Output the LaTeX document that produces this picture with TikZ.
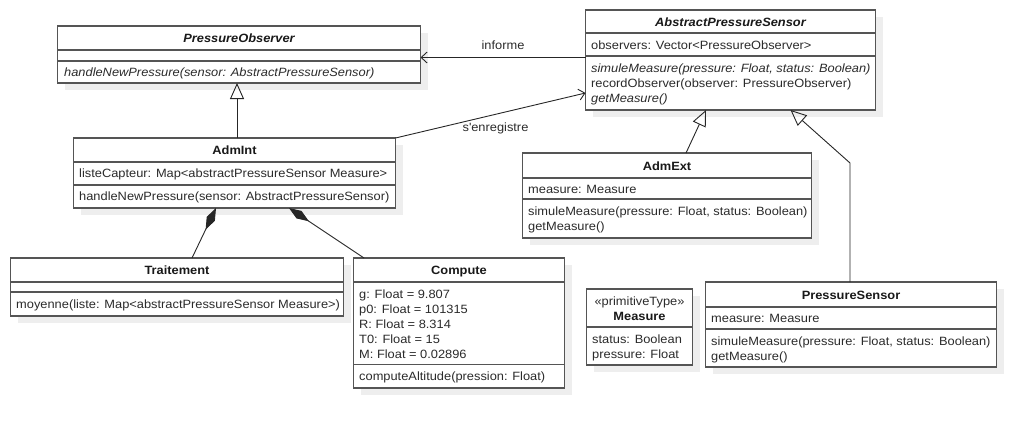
\documentclass[tikz,border=0pt]{standalone}
\usepackage{fontspec}
\setmainfont[FakeStretch=1.07]{Liberation Sans}
\usetikzlibrary{arrows.meta,calc}
\definecolor{linec}{HTML}{555555}
\definecolor{textc}{HTML}{2B2B2B}
\definecolor{shadowc}{HTML}{EEEEEE}
\tikzset{
  classbox/.style={draw=linec, fill=white, line width=1.2pt, inner sep=0pt, outer sep=0pt, anchor=north west},
  shadowbox/.style={fill=shadowc},
  sepline/.style={draw=linec, line width=1.1pt},
  txt/.style={inner sep=0pt, anchor=base west, text=textc, font=\fontsize{12}{14}\selectfont},
  ttl/.style={inner sep=0pt, anchor=base, text=black!90, font=\fontsize{12}{14}\selectfont\bfseries},
  lbl/.style={inner sep=0pt, anchor=base, text=textc, font=\fontsize{12}{14}\selectfont},
  conn/.style={draw=black!85, line width=0.9pt},
  gen/.style={conn, -{Triangle[open, length=16pt, width=14pt, line width=0.9pt]}},
  assoc/.style={conn, -{Straight Barb[length=6pt, width=11pt, line width=0.9pt]}},
  comp/.style={conn, -{Diamond[length=24pt, width=9pt]}},
}
\newcommand\umlclass[5]{%
  \fill[shadowbox] (#2+7,#3+7) rectangle (#4+7,#5+7);
  \node[classbox, minimum width={(#4-#2)*1pt}, minimum height={(#5-#3)*1pt}] (#1) at (#2,#3) {};}
\begin{document}
\begin{tikzpicture}[x=1pt, y=-1pt]
\useasboundingbox (0,0) rectangle (1035,428);

% ---------- PressureObserver
\umlclass{po}{57.5}{26}{420.5}{83}
\draw[sepline] (57.5,50) -- (420.5,50);
\draw[sepline] (57.5,61) -- (420.5,61);
\node[ttl, font=\fontsize{12}{14}\selectfont\bfseries\itshape] (poT) at (239,42.3) {PressureObserver};
\node[txt, font=\fontsize{12}{14}\selectfont\itshape] (poM) at (64,76.3) {handleNewPressure(sensor: AbstractPressureSensor)};

% ---------- AbstractPressureSensor
\umlclass{aps}{585.5}{10}{875.5}{110}
\draw[sepline] (585.5,33) -- (875.5,33);
\draw[sepline] (585.5,56) -- (875.5,56);
\node[ttl, font=\fontsize{12}{14}\selectfont\bfseries\itshape] (apsT) at (730.5,26.3) {AbstractPressureSensor};
\node[txt] (apsA) at (591,49.3) {observers: Vector<PressureObserver>};
\node[txt, font=\fontsize{12}{14}\selectfont\itshape] (apsM1) at (591,72.3) {simuleMeasure(pressure: Float, status: Boolean)};
\node[txt] (apsM2) at (591,87.3) {recordObserver(observer: PressureObserver)};
\node[txt, font=\fontsize{12}{14}\selectfont\itshape] (apsM3) at (591,102.3) {getMeasure()};

% ---------- AdmInt
\umlclass{admint}{73.5}{138}{395.5}{208}
\draw[sepline] (73.5,162) -- (395.5,162);
\draw[sepline] (73.5,185) -- (395.5,185);
\node[ttl] (admintT) at (234.5,154.3) {AdmInt};
\node[txt] (admintA) at (79,177.3) {listeCapteur: Map<abstractPressureSensor Measure>};
\node[txt] (admintM) at (79,200.3) {handleNewPressure(sensor: AbstractPressureSensor)};

% ---------- AdmExt
\umlclass{admext}{522.5}{153}{811.5}{238}
\draw[sepline] (522.5,178) -- (811.5,178);
\draw[sepline] (522.5,199) -- (811.5,199);
\node[ttl] (admextT) at (667,170.3) {AdmExt};
\node[txt] (admextA) at (528,193.3) {measure: Measure};
\node[txt] (admextM1) at (528,215.3) {simuleMeasure(pressure: Float, status: Boolean)};
\node[txt] (admextM2) at (528,230.3) {getMeasure()};

% ---------- Traitement
\umlclass{trait}{10.5}{258}{343.5}{316}
\draw[sepline] (10.5,282) -- (343.5,282);
\draw[sepline] (10.5,292) -- (343.5,292);
\node[ttl] (traitT) at (177,274.3) {Traitement};
\node[txt] (traitM) at (16,308.3) {moyenne(liste: Map<abstractPressureSensor Measure>)};

% ---------- Compute
\umlclass{compute}{353.5}{258}{564.5}{388}
\draw[sepline] (353.5,282) -- (564.5,282);
\draw[sepline] (353.5,364.5) -- (564.5,364.5);
\node[ttl] (computeT) at (459,274.3) {Compute};
\node[txt] (computeA1) at (359,298.3) {g: Float = 9.807};
\node[txt] (computeA2) at (359,313.3) {p0: Float = 101315};
\node[txt] (computeA3) at (359,328.3) {R: Float = 8.314};
\node[txt] (computeA4) at (359,343.3) {T0: Float = 15};
\node[txt] (computeA5) at (359,358.3) {M: Float = 0.02896};
\node[txt] (computeM) at (359,380.3) {computeAltitude(pression: Float)};

% ---------- Measure
\umlclass{measure}{586.5}{289}{692.5}{365}
\draw[sepline] (586.5,327) -- (692.5,327);
\node[lbl] (measureS) at (639.5,305.3) {«primitiveType»};
\node[ttl] (measureT) at (639.5,320.3) {Measure};
\node[txt] (measureA1) at (592,343.3) {status: Boolean};
\node[txt] (measureA2) at (592,358.3) {pressure: Float};

% ---------- PressureSensor
\umlclass{ps}{705.5}{282}{996.5}{367}
\draw[sepline] (705.5,307) -- (996.5,307);
\draw[sepline] (705.5,329) -- (996.5,329);
\node[ttl] (psT) at (851,299.3) {PressureSensor};
\node[txt] (psA) at (711,322.3) {measure: Measure};
\node[txt] (psM1) at (711,345.3) {simuleMeasure(pressure: Float, status: Boolean)};
\node[txt] (psM2) at (711,360.3) {getMeasure()};

% ---------- Generalizations
\path ([xshift=163.5pt]admint.north west) coordinate (g1);
\draw[gen] (g1) -- (g1 |- po.south);
\draw[gen] ([xshift=163.5pt]admext.north west) -- ([xshift=120.5pt]aps.south west);
\draw[gen] ([xshift=144.5pt]ps.north west) -- ++(0,-119) -- ([xshift=205pt]aps.south west);

% ---------- Associations
\path ([yshift=2.5pt]aps.west) coordinate (i1);
\draw[assoc] (i1) -- (i1 -| po.east) node[lbl, midway, yshift=7.5pt] (informeL) {informe};
\draw[assoc] (admint.north east) -- ([yshift=-33pt]aps.west)
  node[lbl, midway, xshift=5pt, yshift=-15.8pt] (enregL) {s\textquotesingle enregistre};

% ---------- Compositions
\draw[comp] ([xshift=181.5pt]trait.north west) -- ([xshift=142.5pt]admint.south west);
\draw[comp] ([xshift=10.5pt]compute.north west) -- ([xshift=215.5pt]admint.south west);
\end{tikzpicture}
\end{document}
